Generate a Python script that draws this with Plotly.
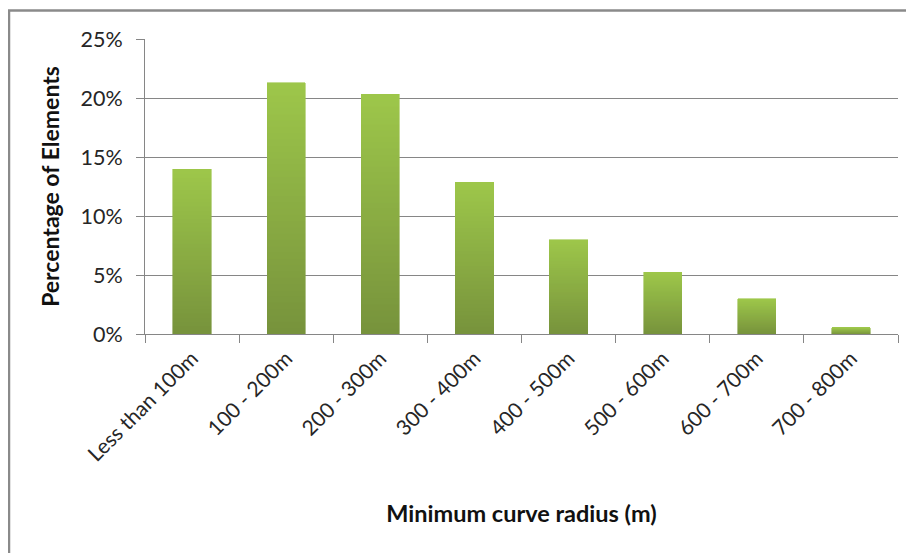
import plotly.graph_objects as go

categories = ["Less than 100m", "100 - 200m", "200 - 300m", "300 - 400m",
              "400 - 500m", "500 - 600m", "600 - 700m", "700 - 800m"]
percent_values = [13.95, 21.3, 20.3, 12.85, 8.0, 5.22, 2.97, 0.55]
y_tick_values = [0, 5, 10, 15, 20, 25]
y_tick_labels = ["0%", "5%", "10%", "15%", "20%", "25%"]

TOP = (157, 198, 74)
BOTTOM = (119, 147, 60)
N = 40
FONT = "Lato"

fig = go.Figure()
for i in range(N):
    t = i / (N - 1)
    c = tuple(round(BOTTOM[k] + (TOP[k] - BOTTOM[k]) * t) for k in range(3))
    col = "rgb(%d,%d,%d)" % c
    fig.add_trace(go.Bar(
        x=categories,
        y=[v / N for v in percent_values],
        marker=dict(color=col, line=dict(color=col, width=0.6)),
        showlegend=False, hoverinfo="skip",
    ))

W, H = 914, 553
ml, mr, mt, mb = 137, 24, 30.5, 226.5
pw, ph = W - ml - mr, H - mt - mb

fig.update_layout(
    width=W, height=H,
    barmode="stack", bargap=0.594,
    margin=dict(l=ml, r=mr, t=mt, b=mb, pad=0),
    paper_bgcolor="white", plot_bgcolor="white",
    font=dict(family=FONT, color="#262626", size=21),
    xaxis=dict(
        showline=True, linecolor="#868686", linewidth=1,
        ticks="outside", ticklen=8, tickcolor="#868686", tickson="boundaries",
        tickangle=-45, tickfont=dict(size=21, family=FONT, color="#262626"),
        ticklabelstandoff=3,
        showgrid=False,
        title=dict(text="<b>Minimum curve radius (m)</b>", font=dict(size=23.5, family=FONT, color="#111111"), standoff=40),
    ),
    yaxis=dict(
        range=[0, 25], tickvals=y_tick_values, ticktext=y_tick_labels,
        showgrid=True, gridcolor="#868686", gridwidth=1,
        showline=True, linecolor="#868686", linewidth=1,
        ticks="outside", ticklen=8, tickcolor="#868686",
        tickfont=dict(size=21.5, family=FONT, color="#262626"),
        ticklabelstandoff=9,
        zeroline=False,
        title=dict(text="<b>Percentage of Elements</b>", font=dict(size=23, family=FONT, color="#111111"), standoff=14),
    ),
)

# chart frame (left and top edges visible, rest cropped)
fig.add_shape(type="rect", xref="paper", yref="paper",
              x0=(1 - ml) / pw, x1=(W + 20 - ml) / pw,
              y0=-(mb + 20) / ph, y1=1 + (mt - 2) / ph,
              line=dict(color="#8a8a8a", width=2.5), layer="below")

fig.write_html("out.html")
